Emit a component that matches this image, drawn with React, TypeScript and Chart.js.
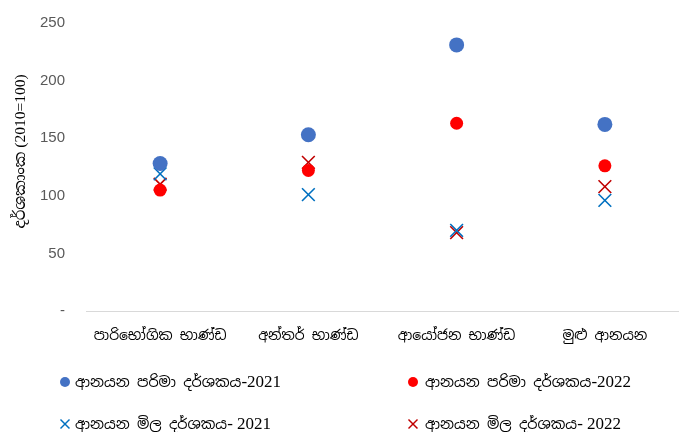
import React, { useEffect, useRef } from "react";
import { Chart, registerables } from "chart.js";

Chart.register(...registerables);

const categories = ["පාරිභෝගික භාණ්ඩ", "අන්තර් භාණ්ඩ", "ආයෝජන භාණ්ඩ", "මුළු ආනයන"];
const volume2021 = [128, 153, 231, 162];
const volume2022 = [105, 122, 163, 126];
const price2021 = [119, 101, 70, 96];
const price2022 = [110, 129, 68, 108];

const seriesNames = [
  "ආනයන පරිමා දර්ශකය-2021",
  "ආනයන පරිමා දර්ශකය-2022",
  "ආනයන මිල දර්ශකය- 2021",
  "ආනයන මිල දර්ශකය- 2022",
];
const yTitle = "දර්ශකාංක (2010=100)";
const yTicks = [0, 50, 100, 150, 200, 250];

const SIN_FONT = "'Noto Sans Sinhala', 'Noto Serif Sinhala', 'Iskoola Pota', 'Liberation Serif', serif";
const LEG_FONT = "'Liberation Serif', 'Noto Serif Sinhala', 'Noto Sans Sinhala', serif";

const colors = ["#4472C4", "#FF0000", "#0070C0", "#C00000"];

function Marker({ kind, color }: { kind: string; color: string }) {
  if (kind === "circle") {
    return (
      <svg width="12" height="12" style={{ display: "block" }}>
        <circle cx="6" cy="6" r="5" fill={color} />
      </svg>
    );
  }
  return (
    <svg width="12" height="12" style={{ display: "block" }}>
      <line x1="1.5" y1="1.5" x2="10.5" y2="10.5" stroke={color} strokeWidth="1.5" />
      <line x1="10.5" y1="1.5" x2="1.5" y2="10.5" stroke={color} strokeWidth="1.5" />
    </svg>
  );
}

function LegendText({ text }: { text: string }) {
  const runs = text.match(/[\u0D80-\u0DFF\u200D ]+|[^\u0D80-\u0DFF\u200D ]+/g) || [];
  return (
    <>
      {runs.map((r, i) =>
        /[\u0D80-\u0DFF]/.test(r) ? (
          <span key={i} style={{ fontSize: 14.5, fontFamily: SIN_FONT }}>{r}</span>
        ) : (
          <span key={i} style={{ fontSize: 17, fontFamily: "'Liberation Serif', serif" }}>{r}</span>
        )
      )}
    </>
  );
}

export default function App() {
  const ref = useRef<HTMLCanvasElement | null>(null);

  useEffect(() => {
    if (!ref.current) return;
    const chart = new Chart(ref.current, {
      type: "line",
      data: {
        labels: categories,
        datasets: [
          {
            label: seriesNames[0],
            data: volume2021,
            showLine: false,
            pointStyle: "circle",
            pointRadius: 7.5,
            pointBackgroundColor: colors[0],
            pointBorderColor: colors[0],
            pointBorderWidth: 0,
          },
          {
            label: seriesNames[1],
            data: volume2022,
            showLine: false,
            pointStyle: "circle",
            pointRadius: 6.5,
            pointBackgroundColor: colors[1],
            pointBorderColor: colors[1],
            pointBorderWidth: 0,
          },
          {
            label: seriesNames[2],
            data: price2021,
            showLine: false,
            pointStyle: "crossRot",
            pointRadius: 9,
            pointBorderColor: colors[2],
            pointBorderWidth: 1.6,
          },
          {
            label: seriesNames[3],
            data: price2022,
            showLine: false,
            pointStyle: "crossRot",
            pointRadius: 9,
            pointBorderColor: colors[3],
            pointBorderWidth: 1.6,
          },
        ],
      },
      options: {
        responsive: false,
        animation: false,
        layout: { autoPadding: false, padding: { top: 23, bottom: 81, left: 0, right: 0 } },
        plugins: {
          legend: { display: false },
          tooltip: { enabled: false },
        },
        scales: {
          x: {
            offset: true,
            grid: { display: false, drawTicks: false },
            border: { display: true, color: "#D9D9D9", width: 1 },
            ticks: {
              color: "#000000",
              font: { family: SIN_FONT, size: 14 },
              padding: 17,
              maxRotation: 0,
            },
            afterFit: (scale: any) => {
              scale.height = 40;
              scale.paddingLeft = 0;
              scale.paddingRight = 0;
            },
          },
          y: {
            min: 0,
            max: 250,
            grid: { display: false, drawTicks: false },
            border: { display: false },
            afterBuildTicks: (scale: any) => {
              scale.ticks = yTicks.map((v) => ({ value: v }));
            },
            ticks: {
              color: "#595959",
              font: { family: "'Liberation Sans', Arial, sans-serif", size: 15 },
              padding: 21,
              callback: (v: any) => (Number(v) === 0 ? "-" : String(v)),
            },
            title: {
              display: true,
              text: "\u00A0".repeat(8) + yTitle,
              color: "#000000",
              font: { family: LEG_FONT, size: 15.5 },
              padding: { top: 12, bottom: 0 },
            },
            afterFit: (scale: any) => {
              scale.width = 86;
              scale.paddingTop = 0;
              scale.paddingBottom = 0;
            },
          },
        },
      },
    });
    return () => chart.destroy();
  }, []);

  const legendItems = [
    { name: seriesNames[0], kind: "circle", color: colors[0], mx: 65, tx: 75, y: 382 },
    { name: seriesNames[1], kind: "circle", color: colors[1], mx: 413, tx: 425, y: 382 },
    { name: seriesNames[2], kind: "cross", color: colors[2], mx: 65, tx: 75, y: 424 },
    { name: seriesNames[3], kind: "cross", color: colors[3], mx: 413, tx: 425, y: 424 },
  ];

  return (
    <div style={{ position: "absolute", left: 0, top: 0, width: 679, height: 432, background: "#fff", overflow: "hidden" }}>
      <canvas ref={ref} width={679} height={432} style={{ display: "block" }} />
      {legendItems.map((it, i) => (
        <React.Fragment key={i}>
          <div style={{ position: "absolute", left: it.mx - 6, top: it.y - 6 }}>
            <Marker kind={it.kind} color={it.color} />
          </div>
          <div
            style={{
              position: "absolute",
              left: it.tx,
              top: it.y - 12,
              height: 24,
              lineHeight: "24px",
              color: "#000",
              whiteSpace: "nowrap",
            }}
          >
            <LegendText text={it.name} />
          </div>
        </React.Fragment>
      ))}
    </div>
  );
}
